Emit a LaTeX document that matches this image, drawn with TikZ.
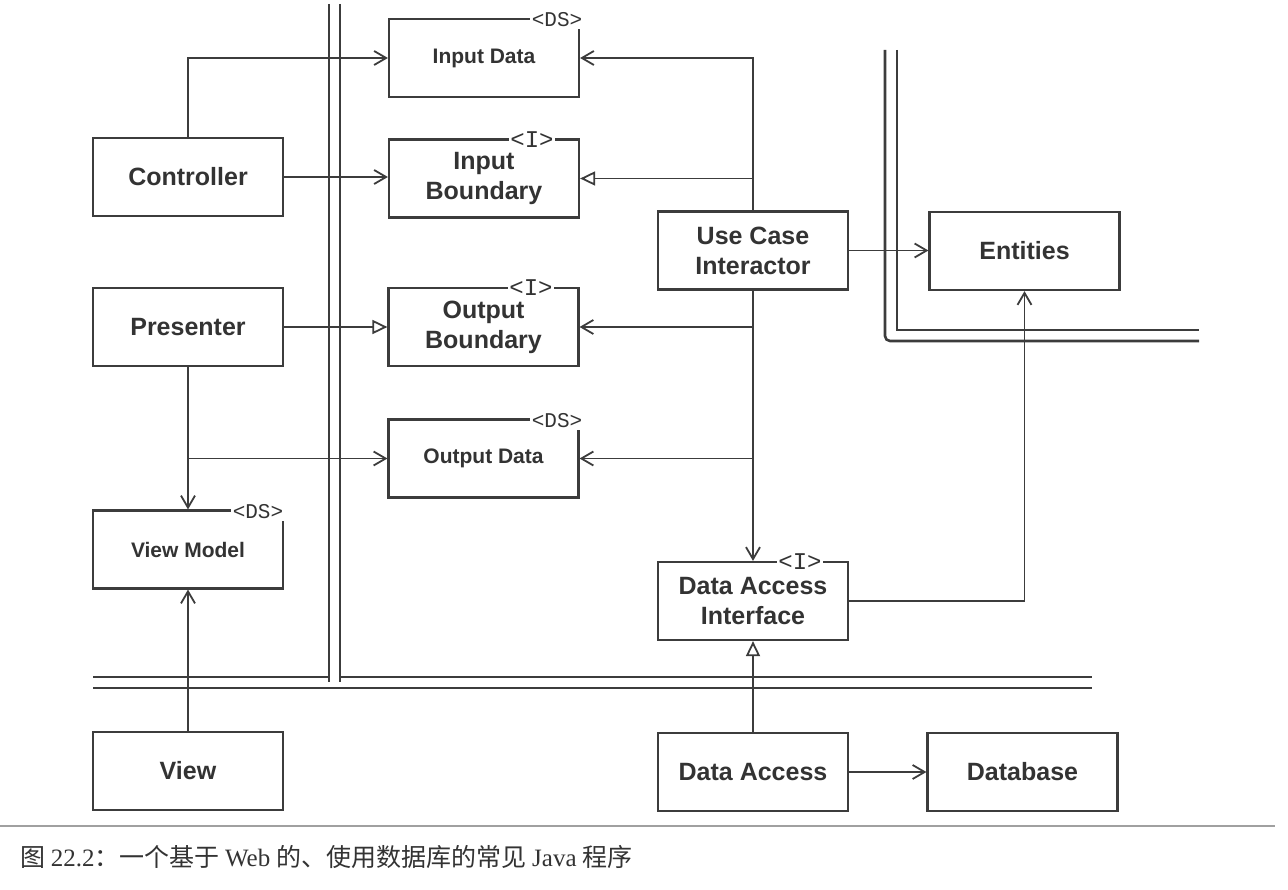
\documentclass[tikz,border=0pt]{standalone}
\usepackage{fontspec}
\setmainfont{Liberation Sans}
\newfontfamily\cjkf{Noto Sans CJK SC}
\newfontfamily\serifl{Liberation Serif}
\newfontfamily\monof{Liberation Mono}
\usetikzlibrary{arrows.meta}
\definecolor{linec}{HTML}{3C3C3C}
\definecolor{textc}{HTML}{333333}
\definecolor{sepc}{HTML}{A0A0A0}
\begin{document}
\begin{tikzpicture}[x=1pt,y=-1pt,
 box/.style={draw=linec, line width=2.2pt, minimum width=190pt, minimum height=78pt, inner sep=0pt, align=center, text=textc, font=\fontsize{25}{30}\selectfont\bfseries},
 dsbox/.style={box, font=\fontsize{21}{25}\selectfont\bfseries},
 ster/.style={fill=white, inner sep=1.5pt, text=textc, font=\fontsize{21}{21}\selectfont\monof},
 steri/.style={fill=white, inner sep=1pt, text=textc, font=\fontsize{24}{24}\selectfont\monof},
 conn/.style={draw=linec, line width=1.8pt},
 arr/.style={conn, -{Straight Barb[length=12pt,width=14pt]}},
 tri/.style={conn, -{Triangle[length=15pt,width=14pt,fill=white]}},
 wall/.style={draw=linec, line width=2.6pt},
]
\useasboundingbox (0,0) rectangle (1288,890);

% layer walls
\draw[wall] (329,4) -- (329,682);
\draw[wall] (340,4) -- (340,682);
\draw[wall] (93,677) -- (329,677);
\draw[wall] (340,677) -- (1092,677);
\draw[wall] (93,688) -- (1092,688);
\draw[wall, rounded corners=5pt] (885,50) -- (885,341) -- (1199,341);
\draw[wall] (897,50) -- (897,330) -- (1199,330);

% boxes
\node[dsbox] (indata) at (484,58) {Input Data};
\node[box] (ib) at (484,178.5) {Input\\Boundary};
\node[box] (ctrl) at (188,177) {Controller};
\node[box] (pres) at (188,327) {Presenter};
\node[box] (ob) at (483.5,327) {Output\\Boundary};
\node[dsbox] (od) at (483.5,458.5) {Output Data};
\node[dsbox] (vm) at (188,549.5) {View Model};
\node[box] (view) at (188,771) {View};
\node[box] (uc) at (753,250.5) {Use Case\\Interactor};
\node[box] (ent) at (1024.5,251) {Entities};
\node[box] (dai) at (753,601) {Data Access\\Interface};
\node[box] (da) at (753,772) {Data Access};
\node[box] (db) at (1022.5,772) {Database};

% stereotypes
\node[ster] (s1) at (557,20) {<DS>};
\node[steri] (s2) at (532,140) {<I>};
\node[steri] (s3) at (531,288) {<I>};
\node[ster] (s4) at (557,421) {<DS>};
\node[ster] (s5) at (258,512) {<DS>};
\node[steri] (s6) at (800,562) {<I>};

% connectors
\draw[arr] (ctrl.north) |- (indata.west);
\draw[arr] (ctrl.east) -- (ctrl.east -| ib.west);
\draw[arr] (uc.north) |- (indata.east);
\coordinate (ucib) at (uc.north |- ib.east);
\draw[tri] (ucib) -- (ib.east);
\draw[arr] (uc.south) -- (dai.north);
\coordinate (ucob) at (uc.south |- ob.east);
\draw[arr] (ucob) -- (ob.east);
\coordinate (ucod) at (uc.south |- od.east);
\draw[arr] (ucod) -- (od.east);
\draw[arr] (uc.east) -- (uc.east -| ent.west);
\draw[tri] (pres.east) -- (ob.west);
\draw[arr] (pres.south) -- (vm.north);
\coordinate (prod) at (pres.south |- od.west);
\draw[arr] (prod) -- (od.west);
\draw[arr] (view.north) -- (vm.south);
\draw[arr] (dai.east) -| (ent.south);
\draw[tri] (da.north) -- (dai.south);
\draw[arr] (da.east) -- (db.west);

% caption
\draw[sepc, line width=1.4pt] (0,826) -- (1275,826);
\node[anchor=west, inner sep=0pt, text=textc, font=\fontsize{25}{30}\selectfont] (cap) at (20,857)
 {\cjkf 图 \serifl 22.2\cjkf ：一个基于 \serifl Web \cjkf 的、使用数据库的常见 \serifl Java \cjkf 程序};
\end{tikzpicture}
\end{document}
